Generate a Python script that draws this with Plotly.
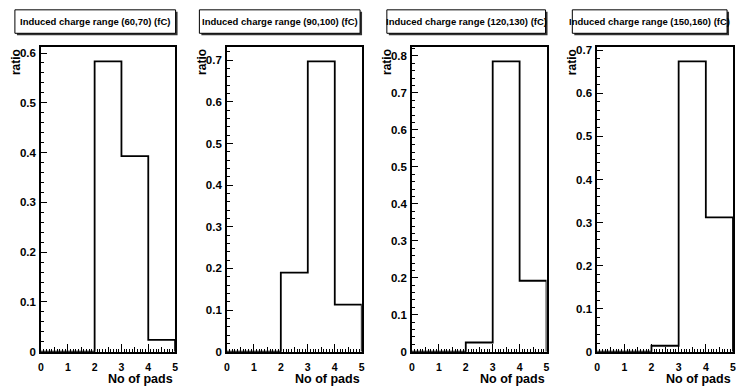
import plotly.graph_objects as go

# ---------------- data ----------------
bin_edges = [0, 1, 2, 3, 4, 5]
x_tick_vals = [0, 1, 2, 3, 4, 5]
half_tick_vals = [0.5, 1.5, 2.5, 3.5, 4.5]
charge_ranges = ["(60,70)", "(90,100)", "(120,130)", "(150,160)"]
ratio_60_70 = [0.0, 0.0, 0.583, 0.393, 0.024]
ratio_90_100 = [0.0, 0.0, 0.190, 0.697, 0.113]
ratio_120_130 = [0.0, 0.0, 0.025, 0.785, 0.192]
ratio_150_160 = [0.0, 0.0, 0.014, 0.674, 0.312]
series = [ratio_60_70, ratio_90_100, ratio_120_130, ratio_150_160]
x_title = "No of pads"
y_title = "ratio"

# ---------------- layout geometry (pixels) ----------------
W, H = 736, 390
frame_x = [(38.3, 173.5), (225.7, 361.7), (412.3, 548.0), (599.0, 736.5)]
frame_top, frame_bottom = 45, 357
title_x = [(12, 174), (198, 360), (387, 547), (574, 730)]
title_top, title_bottom = 7, 31
FONT = "Liberation Sans"


def px(x):
    return x / W


def py(y):
    return 1 - y / H


fig = go.Figure()
shapes = []
annotations = []

for i, vals in enumerate(series):
    n = i + 1
    # step outline of the histogram
    xs = [bin_edges[0]]
    ys = [0]
    for j, v in enumerate(vals):
        xs += [bin_edges[j], bin_edges[j + 1]]
        ys += [v, v]
    xs.append(bin_edges[-1])
    ys.append(0)
    fig.add_trace(go.Scatter(x=xs, y=ys, mode="lines",
                             line=dict(color="black", width=1.8),
                             xaxis=f"x{n}", yaxis=f"y{n}",
                             hoverinfo="skip", showlegend=False))
    # dummy trace for overlay axis carrying the medium ticks
    fig.add_trace(go.Scatter(x=[], y=[], xaxis=f"x{n + 4}", yaxis=f"y{n}",
                             hoverinfo="skip", showlegend=False))

    l, r = frame_x[i]
    ymax = 1.05 * max(vals)
    fig.layout[f"xaxis{n}"] = dict(
        domain=[px(l), min(px(r), 1.0)], range=[0, 5], anchor=f"y{n}",
        tickmode="array", tickvals=x_tick_vals,
        ticks="inside", ticklen=8, tickwidth=1, tickcolor="black",
        minor=dict(dtick=0.1, tick0=0, ticks="inside", ticklen=3.5,
                   tickwidth=1, tickcolor="black"),
        showline=True, mirror=True, linecolor="black", linewidth=1.5,
        showgrid=False, zeroline=False,
        tickfont=dict(family=FONT, size=10.5, color="black", weight="bold"),
        ticklabelstandoff=5, ticklabeloverflow="allow",
    )
    fig.layout[f"xaxis{n + 4}"] = dict(
        overlaying=f"x{n}", anchor=f"y{n}", range=[0, 5],
        tickmode="array", tickvals=half_tick_vals,
        ticks="inside", ticklen=5, tickwidth=1, tickcolor="black",
        showticklabels=False, showline=False, showgrid=False, zeroline=False,
    )
    fig.layout[f"yaxis{n}"] = dict(
        domain=[py(frame_bottom), py(frame_top)], range=[0, ymax],
        anchor=f"x{n}", tick0=0, dtick=0.1,
        ticks="inside", ticklen=6, tickwidth=1, tickcolor="black",
        minor=dict(dtick=0.02, tick0=0, ticks="inside", ticklen=3,
                   tickwidth=1, tickcolor="black"),
        showline=True, mirror=True, linecolor="black", linewidth=1.5,
        showgrid=False, zeroline=False,
        tickfont=dict(family=FONT, size=11.5, color="black", weight="bold"),
        ticklabelstandoff=1,
    )

    # title box with shadow
    tl, tr = title_x[i]
    shapes.append(dict(type="rect", xref="paper", yref="paper",
                       x0=px(tl + 2), x1=px(tr + 2), y0=py(title_bottom + 2), y1=py(title_top + 2),
                       fillcolor="#333333", line=dict(width=0), layer="above"))
    shapes.append(dict(type="rect", xref="paper", yref="paper",
                       x0=px(tl), x1=px(tr), y0=py(title_bottom), y1=py(title_top),
                       fillcolor="white", line=dict(color="black", width=1), layer="above"))
    annotations.append(dict(
        text=f"<b>Induced charge range {charge_ranges[i]} (fC)</b>",
        xref="paper", yref="paper", x=px((tl + tr) / 2), y=py((title_top + title_bottom) / 2),
        xanchor="center", yanchor="middle", showarrow=False,
        font=dict(family=FONT, size=9.5, color="black")))
    # axis titles
    annotations.append(dict(
        text=f"<b>{y_title}</b>", xref="paper", yref="paper",
        x=px(l - 16), y=py(frame_top), xanchor="right", yanchor="top",
        textangle=-90, showarrow=False,
        font=dict(family=FONT, size=12, color="black")))
    annotations.append(dict(
        text=f"<b>{x_title}</b>", xref="paper", yref="paper",
        x=px(min(r, 736)), y=py(385), xanchor="right", yanchor="middle",
        showarrow=False,
        font=dict(family=FONT, size=12.5, color="black")))

fig.update_layout(
    width=W, height=H, margin=dict(l=0, r=0, t=0, b=0),
    paper_bgcolor="white", plot_bgcolor="white",
    shapes=shapes, annotations=annotations, showlegend=False,
)

fig.write_html("out.html")
